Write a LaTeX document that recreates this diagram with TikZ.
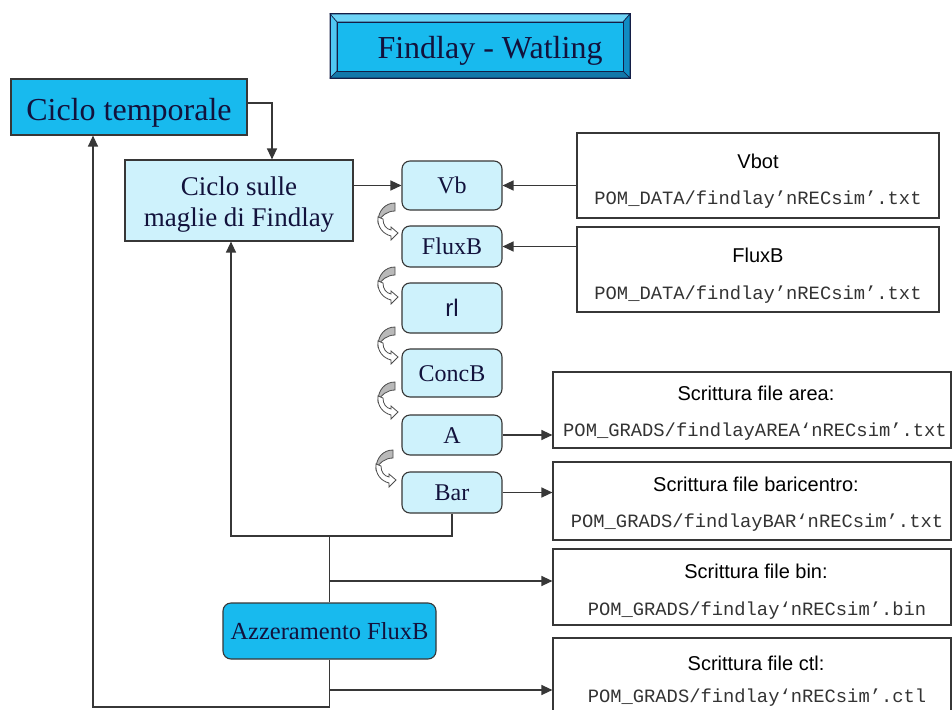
\documentclass[tikz,border=0pt]{standalone}
\usepackage{fontspec}
\setmainfont{Liberation Serif}
\setsansfont{Liberation Sans}
\setmonofont{Liberation Mono}
\usetikzlibrary{arrows.meta,calc}
\definecolor{cyanA}{RGB}{24,186,238}
\definecolor{cyanL}{RGB}{206,242,252}
\definecolor{lineC}{RGB}{55,55,55}
\definecolor{txtC}{RGB}{18,18,60}
\definecolor{navyC}{RGB}{20,30,70}
\definecolor{bevT}{RGB}{110,212,246}
\definecolor{bevL}{RGB}{80,200,242}
\definecolor{bevB}{RGB}{18,120,170}
\definecolor{bevR}{RGB}{16,140,195}
\begin{document}
\begin{tikzpicture}[x=1pt,y=-1pt,
  conn/.style={draw=lineC, line width=1.3pt},
  arr/.style={conn, -{Triangle[length=11pt,width=10pt]}},
  bigbox/.style={draw=lineC, line width=1.2pt, fill=cyanA, inner sep=0pt, text=txtC,
     font=\fontsize{32}{38}\selectfont, text height=26pt, text depth=0pt},
  sbox/.style={draw=lineC, line width=1.1pt, fill=cyanL, rounded corners=8pt, inner sep=0pt,
     minimum width=100pt, text=txtC, font=\fontsize{24}{28}\selectfont, text height=16pt, text depth=0pt},
  fbox/.style={draw=lineC, line width=1.2pt, fill=white, inner sep=0pt},
  ftitle/.style={anchor=base, inner sep=0pt, text=black, font=\sffamily\fontsize{20}{24}\selectfont},
  fpath/.style={anchor=base, inner sep=0pt, text=black!80, font=\ttfamily\fontsize{18.8}{23}\selectfont},
  curv/.pic={
    \filldraw[fill=gray!55, draw=black!70, line width=0.8pt] (0,0) .. controls (-10,0) and (-17,8) .. (-17,19) .. controls (-14,13) and (-8,8) .. (0,8) -- cycle;
    \filldraw[fill=white, draw=black!70, line width=0.8pt] (-17,14) .. controls (-18,24) and (-12,31) .. (-4,33) -- (-4,37) -- (3,30) -- (-4,24) -- (-4,27) .. controls (-9,26) and (-12,22) .. (-12,16) -- cycle;
  }
]
\clip (0,0) rectangle (952,709);
\fill[white] (0,0) rectangle (952,709);

% title with bevel
\filldraw[fill=bevT, draw=navyC, line width=0.6pt] (330,14) -- (630,14) -- (623,22) -- (337,22) -- cycle;
\filldraw[fill=bevL, draw=navyC, line width=0.6pt] (330,14) -- (337,22) -- (337,71) -- (330,78) -- cycle;
\filldraw[fill=bevB, draw=navyC, line width=0.6pt] (330,78) -- (630,78) -- (623,71) -- (337,71) -- cycle;
\filldraw[fill=bevR, draw=navyC, line width=0.6pt] (630,14) -- (630,78) -- (623,71) -- (623,22) -- cycle;
\node[fill=cyanA, draw=navyC, line width=0.8pt, inner sep=0pt, minimum width=286pt, minimum height=49pt,
      text=txtC, font=\fontsize{32}{38}\selectfont, text height=25pt, text depth=0pt] (title) at (480,46.5) {\hspace*{20pt}Findlay - Watling};
\draw[navyC, line width=1pt] (330,14) rectangle (630,78);

% left boxes
\node[bigbox, minimum width=236pt, minimum height=56pt] (ct) at (129,107) {Ciclo temporale};
\node[draw=lineC, line width=1.2pt, fill=cyanL, inner sep=0pt, minimum width=228pt, minimum height=81pt] (cs) at (239,200.5) {};
\node[align=center, inner sep=0pt, text=txtC, font=\fontsize{27}{31}\selectfont] (cst) at (239,205) {Ciclo sulle\\maglie di Findlay};

% column of steps
\node[sbox, minimum height=49pt] (vb) at (452,185.5) {Vb};
\node[sbox, minimum height=41pt] (fb) at (452,246.5) {FluxB};
\node[sbox, minimum height=50pt, font=\sffamily\fontsize{24}{28}\selectfont] (rl) at (452,308) {rl};
\node[sbox, minimum height=48pt] (cb) at (452,373) {ConcB};
\node[sbox, minimum height=40pt] (a) at (452,435) {A};
\node[sbox, minimum height=41pt] (bar) at (452,492.5) {Bar};

\pic at (395,203) {curv};
\pic at (395,267) {curv};
\pic at (395,327) {curv};
\pic at (395,382) {curv};
\pic at (393,450) {curv};

% Azzeramento
\node[sbox, fill=cyanA, minimum width=213pt, minimum height=56pt, font=\fontsize{24.5}{29}\selectfont, text height=17pt] (az) at (329.5,631) {Azzeramento FluxB};

% file boxes
\node[fbox, minimum width=362pt, minimum height=85pt] (r1) at (758,175.5) {};
\node[ftitle] (r1t) at (758,168) {Vbot};
\node[fpath] (r1p) at (758,204) {POM\_DATA/findlay’nRECsim’.txt};

\node[fbox, minimum width=362pt, minimum height=85pt] (r2) at (758,269.5) {};
\node[ftitle] (r2t) at (758,262) {FluxB};
\node[fpath] (r2p) at (758,299) {POM\_DATA/findlay’nRECsim’.txt};

\node[fbox, minimum width=398pt, minimum height=76pt] (r3) at (752,410) {};
\node[ftitle] (r3t) at (756,400) {Scrittura file area:};
\node[fpath] (r3p) at (755,436) {POM\_GRADS/findlayAREA‘nRECsim’.txt};

\node[fbox, minimum width=398pt, minimum height=78pt] (r4) at (752,501) {};
\node[ftitle] (r4t) at (756,491) {Scrittura file baricentro:};
\node[fpath] (r4p) at (757,527) {POM\_GRADS/findlayBAR‘nRECsim’.txt};

\node[fbox, minimum width=398pt, minimum height=76pt] (r5) at (752,587) {};
\node[ftitle] (r5t) at (756,578) {Scrittura file bin:};
\node[fpath] (r5p) at (757,615) {POM\_GRADS/findlay‘nRECsim’.bin};

\node[fbox, minimum width=398pt, minimum height=82pt] (r6) at (752,679) {};
\node[ftitle] (r6t) at (756,670) {Scrittura file ctl:};
\node[fpath] (r6p) at (757,702) {POM\_GRADS/findlay‘nRECsim’.ctl};

% connectors
\draw[arr] ([yshift=4pt]ct.east) -| ([xshift=33pt]cs.north);
\draw[arr] (vb.west -| cs.east) -- (vb.west);
\draw[arr] (vb.east -| r1.west) -- (vb.east);
\draw[arr] (fb.east -| r2.west) -- (fb.east);
\draw[arr] (a.east) -- (a.east -| r3.west);
\draw[arr] (bar.east) -- (bar.east -| r4.west);
\coordinate (j) at (329.5,536);
\coordinate (b5) at (329.5,581);
\coordinate (b6) at (329.5,690);
\coordinate (k) at (329.5,707);
\draw[arr] (bar.south) |- (j) -| ([xshift=-8pt]cs.south);
\draw[conn] (j) -- (az.north);
\draw[arr] (b5) -- (b5 -| r5.west);
\draw[arr] (az.south) -- (k) -| ([xshift=-36pt]ct.south);
\draw[arr] (b6) -- (b6 -| r6.west);
\end{tikzpicture}
\end{document}
